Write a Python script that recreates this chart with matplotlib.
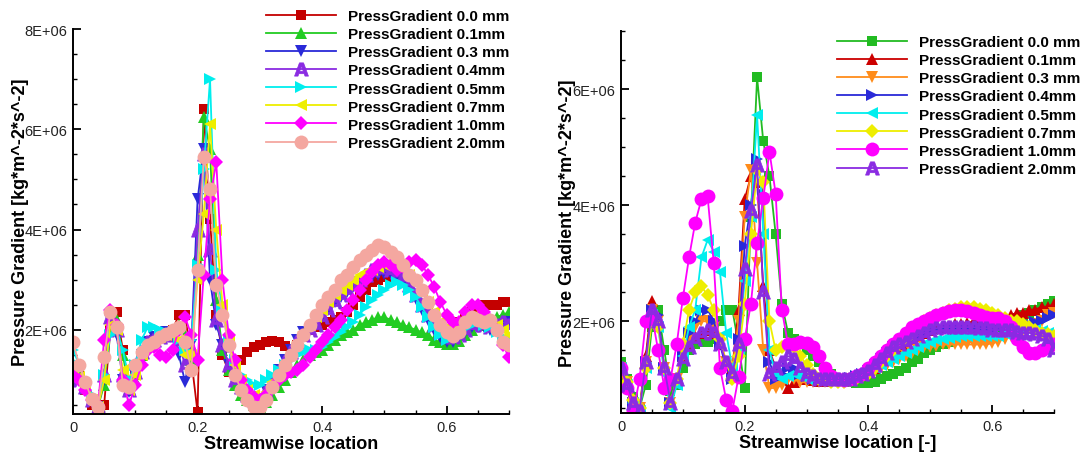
import numpy as np
import matplotlib.pyplot as plt
from matplotlib.ticker import FuncFormatter, MultipleLocator

plt.rcParams['font.family'] = ['Liberation Sans', 'DejaVu Sans']

# streamwise stations (same for every curve), values below in units of 1E+06
x = np.linspace(0, 0.7, 71)

labels_left = ['PressGradient 0.0 mm', 'PressGradient 0.1mm', 'PressGradient 0.3 mm',
               'PressGradient 0.4mm', 'PressGradient 0.5mm', 'PressGradient 0.7mm',
               'PressGradient 1.0mm', 'PressGradient 2.0mm']
labels_right = ['PressGradient 0.0 mm', 'PressGradient 0.1mm', 'PressGradient 0.3 mm',
                'PressGradient 0.4mm', 'PressGradient 0.5mm', 'PressGradient 0.7mm',
                'PressGradient 1.0mm', 'PressGradient 2.0mm']

# ---- left chart ----
left_00 = [1.3, 1.1, 0.8, 0.5, 0.35, 0.5, 2.0, 2.35, 1.6, 0.9,
           1.1, 1.5, 1.7, 1.8, 1.85, 1.9, 2.0, 2.3, 2.3, 1.4,
           0.35, 6.4, 4.2, 2.3, 1.5, 1.15, 1.25, 1.4, 1.55, 1.65,
           1.7, 1.75, 1.78, 1.75, 1.68, 1.62, 1.7, 1.85, 2.0, 2.05,
           2.1, 2.15, 2.2, 2.25, 2.35, 2.5, 2.65, 2.8, 2.95, 3.0,
           3.05, 3.05, 3.05, 3.0, 2.85, 2.7, 2.5, 2.35, 2.2, 2.05,
           2.0, 2.05, 2.15, 2.25, 2.35, 2.45, 2.5, 2.5, 2.5, 2.55,
           2.55]
left_01 = [1.2, 1.1, 0.9, 0.6, 0.45, 0.9, 2.0, 2.2, 1.5, 0.8,
           1.0, 1.5, 1.75, 1.85, 1.9, 1.95, 2.0, 2.1, 1.9, 1.4,
           3.5, 6.25, 5.6, 2.6, 1.6, 1.2, 0.9, 0.7, 0.6, 0.5,
           0.45, 0.55, 0.7, 0.85, 1.0, 1.15, 1.3, 1.4, 1.5, 1.55,
           1.6, 1.7, 1.8, 1.9, 1.95, 2.0, 2.1, 2.15, 2.2, 2.25,
           2.25, 2.2, 2.15, 2.1, 2.05, 2.0, 1.95, 1.9, 1.8, 1.75,
           1.72, 1.72, 1.78, 1.9, 2.0, 2.1, 2.15, 2.2, 2.25, 2.3,
           2.35]
left_03 = [1.1, 1.0, 0.8, 0.55, 0.45, 1.0, 2.2, 1.9, 1.0, 0.75,
           1.1, 1.5, 1.75, 1.85, 1.9, 1.95, 1.85, 1.5, 0.95, 1.7,
           4.6, 5.6, 3.0, 2.1, 1.7, 1.3, 1.05, 0.9, 0.75, 0.65,
           0.6, 0.8, 1.0, 1.2, 1.4, 1.6, 1.8, 1.95, 2.0, 2.1,
           2.25, 2.4, 2.55, 2.65, 2.75, 2.85, 2.95, 3.0, 3.05, 3.1,
           3.12, 3.12, 3.08, 3.0, 2.85, 2.62, 2.4, 2.2, 2.0, 1.85,
           1.75, 1.75, 1.85, 1.95, 2.05, 2.1, 2.05, 2.0, 2.05, 2.1,
           2.15]
left_04 = [1.15, 1.0, 0.85, 0.6, 0.45, 1.1, 2.25, 2.0, 1.1, 0.8,
           1.15, 1.55, 1.75, 1.8, 1.85, 1.9, 1.9, 1.7, 1.3, 1.6,
           4.0, 5.5, 3.6, 2.2, 1.7, 1.3, 1.0, 0.85, 0.7, 0.6,
           0.6, 0.75, 0.95, 1.15, 1.35, 1.55, 1.75, 1.9, 2.0, 2.1,
           2.25, 2.4, 2.55, 2.7, 2.8, 2.9, 3.0, 3.1, 3.2, 3.25,
           3.25, 3.2, 3.15, 3.05, 2.9, 2.7, 2.5, 2.3, 2.1, 1.95,
           1.85, 1.85, 1.9, 2.0, 2.1, 2.15, 2.1, 2.05, 2.1, 2.15,
           2.1]
left_05 = [1.6, 1.3, 1.0, 0.7, 0.5, 1.1, 1.9, 2.0, 1.6, 1.0,
           1.3, 1.8, 2.05, 2.05, 2.0, 1.95, 1.9, 1.8, 1.6, 1.8,
           3.3, 5.2, 7.0, 3.2, 2.4, 1.8, 1.4, 1.1, 1.0, 0.9,
           0.9, 1.0, 1.1, 1.2, 1.3, 1.4, 1.5, 1.55, 1.6, 1.6,
           1.65, 1.75, 1.85, 1.95, 2.05, 2.15, 2.3, 2.45, 2.6, 2.7,
           2.8, 2.9, 2.95, 2.9, 2.8, 2.65, 2.45, 2.25, 2.05, 1.9,
           1.8, 1.85, 1.95, 2.05, 2.1, 2.15, 2.1, 2.05, 1.95, 1.85,
           1.8]
left_07 = [1.2, 1.05, 0.85, 0.6, 0.45, 1.0, 2.1, 2.0, 1.2, 0.8,
           1.1, 1.5, 1.7, 1.8, 1.85, 1.9, 1.9, 1.8, 1.5, 1.5,
           3.0, 4.3, 6.1, 4.0, 2.5, 1.8, 1.3, 1.0, 0.8, 0.7,
           0.65, 0.75, 0.95, 1.15, 1.35, 1.55, 1.75, 1.95, 2.1, 2.25,
           2.4, 2.55, 2.7, 2.8, 2.9, 3.0, 3.1, 3.15, 3.2, 3.25,
           3.3, 3.3, 3.25, 3.2, 3.1, 2.95, 2.75, 2.55, 2.35, 2.15,
           2.05, 2.05, 2.1, 2.2, 2.25, 2.25, 2.2, 2.15, 2.1, 2.0,
           1.9]
left_10 = [1.1, 1.0, 0.8, 0.6, 0.5, 1.8, 2.4, 2.1, 1.0, 0.5,
           0.9, 1.3, 1.6, 1.65, 1.5, 1.45, 1.6, 2.0, 2.25, 1.9,
           1.4, 3.1, 4.6, 5.35, 3.0, 1.9, 1.4, 1.0, 0.8, 0.65,
           0.6, 0.7, 0.85, 1.0, 1.1, 1.15, 1.2, 1.3, 1.45, 1.6,
           1.75, 1.9, 2.05, 2.2, 2.4, 2.6, 2.8, 3.0, 3.15, 3.3,
           3.35, 3.3, 3.2, 3.25, 3.35, 3.4, 3.3, 3.1, 2.85, 2.55,
           2.3, 2.15, 2.15, 2.35, 2.5, 2.5, 2.35, 2.2, 2.0, 1.7,
           1.45]
left_20 = [1.76, 1.3, 0.95, 0.62, 0.45, 1.45, 2.36, 2.06, 0.9, 0.85,
           1.3, 1.55, 1.7, 1.76, 1.85, 1.92, 2.0, 2.05, 1.75, 1.2,
           3.2, 5.45, 4.8, 2.9, 2.3, 1.7, 1.1, 0.8, 0.6, 0.45,
           0.45, 0.6, 0.85, 1.1, 1.3, 1.5, 1.7, 1.9, 2.1, 2.3,
           2.5, 2.65, 2.8, 3.0, 3.1, 3.25, 3.4, 3.5, 3.6, 3.7,
           3.65, 3.55, 3.45, 3.3, 3.1, 3.0, 2.8, 2.55, 2.3, 2.1,
           1.95, 1.88, 1.95, 2.15, 2.25, 2.2, 2.15, 2.2, 2.0, 1.75,
           1.7]

# ---- right chart ----
right_00 = [1.3, 1.0, 0.7, 0.5, 0.9, 1.9, 2.2, 1.5, 0.8, 0.9,
            1.2, 1.5, 1.6, 1.65, 1.65, 1.7, 2.0, 2.2, 2.2, 1.6,
            0.85, 3.8, 6.2, 5.1, 4.5, 3.5, 2.3, 1.8, 1.7, 1.6,
            1.5, 1.4, 1.3, 1.2, 1.1, 1.0, 0.97, 0.95, 0.93, 0.93,
            0.93, 0.95, 1.0, 1.05, 1.1, 1.15, 1.2, 1.3, 1.35, 1.45,
            1.5, 1.55, 1.6, 1.65, 1.7, 1.7, 1.72, 1.75, 1.78, 1.8,
            1.85, 1.9, 1.95, 2.0, 2.05, 2.1, 2.15, 2.2, 2.25, 2.3,
            2.35]
right_01 = [1.2, 0.95, 0.65, 0.5, 1.4, 2.35, 2.0, 1.2, 0.6, 1.0,
            1.4, 1.6, 1.75, 1.8, 1.85, 1.8, 1.6, 1.3, 1.2, 2.2,
            4.1, 4.5, 4.4, 2.6, 1.5, 1.2, 1.0, 0.85, 0.95, 1.0,
            1.0, 0.98, 0.97, 0.97, 0.98, 1.0, 1.0, 1.02, 1.05, 1.1,
            1.15, 1.2, 1.3, 1.4, 1.5, 1.55, 1.6, 1.7, 1.75, 1.8,
            1.85, 1.88, 1.9, 1.92, 1.95, 1.95, 1.97, 2.0, 2.0, 2.0,
            2.0, 2.02, 2.05, 2.1, 2.15, 2.15, 2.2, 2.2, 2.25, 2.25,
            2.3]
right_03 = [1.2, 0.95, 0.6, 0.5, 1.3, 2.2, 2.0, 1.2, 0.6, 1.0,
            1.4, 1.7, 1.9, 2.0, 2.0, 1.9, 1.7, 1.3, 1.2, 2.0,
            3.8, 4.6, 3.0, 1.5, 0.85, 0.85, 0.9, 1.0, 1.0, 0.95,
            0.95, 0.95, 0.95, 0.95, 0.95, 0.95, 0.98, 1.0, 1.02, 1.05,
            1.1, 1.15, 1.2, 1.25, 1.3, 1.35, 1.4, 1.45, 1.5, 1.55,
            1.55, 1.58, 1.6, 1.6, 1.6, 1.6, 1.6, 1.6, 1.6, 1.6,
            1.62, 1.65, 1.7, 1.75, 1.8, 1.85, 1.9, 1.95, 2.0, 2.1,
            2.15]
right_04 = [1.2, 0.9, 0.6, 0.45, 1.3, 2.2, 2.1, 1.2, 0.6, 1.0,
            1.4, 1.8, 2.0, 2.2, 2.2, 2.0, 1.6, 1.2, 1.0, 1.7,
            3.3, 4.0, 4.8, 4.2, 1.3, 1.0, 1.1, 1.2, 1.2, 1.1,
            1.05, 1.0, 1.0, 1.0, 1.0, 1.0, 1.0, 1.02, 1.05, 1.1,
            1.15, 1.25, 1.35, 1.45, 1.55, 1.6, 1.65, 1.7, 1.75, 1.8,
            1.82, 1.85, 1.87, 1.88, 1.88, 1.88, 1.88, 1.88, 1.88, 1.88,
            1.88, 1.88, 1.88, 1.9, 1.9, 1.92, 1.95, 1.98, 2.0, 2.05,
            2.1]
right_05 = [1.2, 0.9, 0.6, 0.45, 1.2, 2.1, 1.9, 1.1, 0.5, 0.9,
            1.4, 1.9, 2.2, 3.1, 3.4, 3.2, 2.85, 1.8, 1.2, 1.5,
            2.7, 3.8, 5.55, 3.5, 1.5, 1.1, 1.0, 1.05, 1.1, 1.05,
            1.0, 1.0, 1.0, 0.98, 0.98, 1.0, 1.0, 1.02, 1.05, 1.1,
            1.15, 1.2, 1.25, 1.3, 1.35, 1.4, 1.45, 1.5, 1.55, 1.6,
            1.65, 1.68, 1.7, 1.72, 1.73, 1.74, 1.75, 1.75, 1.75, 1.75,
            1.75, 1.75, 1.78, 1.8, 1.82, 1.85, 1.85, 1.85, 1.83, 1.8,
            1.75]
right_07 = [1.2, 0.95, 0.65, 0.5, 1.2, 2.0, 1.9, 1.2, 0.6, 1.0,
            1.6, 2.2, 2.5, 2.6, 2.45, 2.2, 1.7, 1.3, 1.0, 1.4,
            2.3, 3.5, 4.6, 4.4, 2.0, 1.5, 1.55, 1.6, 1.55, 1.4,
            1.25, 1.1, 1.0, 0.98, 0.95, 0.95, 0.95, 0.98, 1.0, 1.05,
            1.1, 1.2, 1.3, 1.4, 1.5, 1.6, 1.7, 1.8, 1.9, 2.0,
            2.05, 2.1, 2.15, 2.2, 2.22, 2.25, 2.25, 2.25, 2.22, 2.2,
            2.15, 2.1, 2.05, 2.0, 2.0, 1.95, 1.9, 1.85, 1.8, 1.78,
            1.75]
right_10 = [1.2, 0.85, 0.45, 1.0, 2.0, 2.1, 1.5, 0.85, 1.0, 1.6,
            2.4, 3.1, 3.7, 4.1, 4.15, 3.0, 1.2, 0.65, 0.46, 1.04,
            1.69, 2.3, 3.35, 4.12, 4.92, 4.2, 2.2, 1.6, 1.6, 1.65,
            1.62, 1.55, 1.4, 1.2, 1.05, 1.0, 0.98, 1.0, 1.05, 1.1,
            1.2, 1.3, 1.4, 1.5, 1.6, 1.7, 1.8, 1.9, 1.95, 2.0,
            2.05, 2.1, 2.15, 2.18, 2.2, 2.2, 2.18, 2.15, 2.1, 2.08,
            2.05, 2.05, 2.0, 1.9, 1.7, 1.55, 1.45, 1.45, 1.5, 1.55,
            1.6]
right_20 = [1.2, 0.9, 0.6, 0.45, 1.3, 2.2, 2.0, 1.2, 0.6, 1.0,
            1.35, 1.55, 1.7, 1.8, 1.85, 1.8, 1.6, 1.3, 1.1, 1.6,
            2.9, 3.9, 4.7, 2.5, 1.1, 1.2, 1.3, 1.4, 1.35, 1.2,
            1.1, 1.05, 1.0, 1.0, 1.0, 1.0, 1.0, 1.0, 1.05, 1.1,
            1.15, 1.25, 1.35, 1.45, 1.55, 1.6, 1.65, 1.7, 1.75, 1.8,
            1.85, 1.88, 1.9, 1.9, 1.9, 1.9, 1.9, 1.9, 1.88, 1.88,
            1.85, 1.85, 1.85, 1.85, 1.82, 1.8, 1.8, 1.78, 1.75, 1.7,
            1.5]

left_series = [left_00, left_01, left_03, left_04, left_05, left_07, left_10, left_20]
right_series = [right_00, right_01, right_03, right_04, right_05, right_07, right_10, right_20]

left_colors = ['#c40000', '#22cc22', '#2a2ad8', '#8a2be2', '#00eeee', '#eeee00', '#ff00ff', '#f4a7a0']
left_markers = ['s', '^', 'v', r'$\mathbf{A}$', '>', '<', 'D', 'o']
left_sizes = [7.5, 8, 8, 10, 8, 8, 7.5, 10]

right_colors = ['#22bb22', '#cc0000', '#ff8c1a', '#2a2ad8', '#00eeee', '#eeee00', '#ff00ff', '#8a2be2']
right_markers = ['s', '^', 'v', '>', '<', 'D', 'o', r'$\mathbf{A}$']
right_sizes = [7.5, 8, 8, 8, 8, 7.5, 10, 10]

fig = plt.figure(figsize=(10.82, 4.56), dpi=100)
ax1 = fig.add_axes([73 / 1082, 1 - 415 / 456, 436 / 1082, 385 / 456])
ax2 = fig.add_axes([621 / 1082, 1 - 414 / 456, 433 / 1082, 382 / 456])

sci = FuncFormatter(lambda v, pos: '%dE+06' % round(v / 1e6))


def draw(ax, series, labels, colors, markers, sizes, ylim, xlabel, ylab_x):
    for vals, lab, c, m, s in zip(series, labels, colors, markers, sizes):
        ax.plot(x, np.array(vals) * 1e6, color=c, marker=m, markersize=s,
                linewidth=1.3, markeredgewidth=0.5 if m.startswith('$') else 0,
                label=lab)
    ax.set_xlim(0, 0.7)
    ax.set_ylim(*ylim)
    ax.xaxis.set_major_locator(MultipleLocator(0.2))
    ax.xaxis.set_minor_locator(MultipleLocator(0.05))
    ax.yaxis.set_major_locator(MultipleLocator(2e6))
    ax.yaxis.set_minor_locator(MultipleLocator(0.5e6))
    ax.yaxis.set_major_formatter(sci)
    ax.xaxis.set_major_formatter(FuncFormatter(lambda v, pos: '0' if v == 0 else '%.1f' % v))
    ax.spines['top'].set_visible(False)
    ax.spines['right'].set_visible(False)
    ax.spines['left'].set_linewidth(1.4)
    ax.spines['bottom'].set_linewidth(1.4)
    ax.tick_params(which='major', direction='in', length=6, width=1.3,
                   labelsize=10.5, labelcolor='#222222', pad=4)
    ax.tick_params(which='minor', direction='in', length=3, width=1.0)
    ax.set_xlabel(xlabel, fontsize=13, fontweight='bold', labelpad=1)
    ax.set_ylabel('Pressure Gradient [kg*m^-2*s^-2]', fontsize=13, fontweight='bold')
    ax.yaxis.set_label_coords(ylab_x, 0.5)


draw(ax1, left_series, labels_left, left_colors, left_markers, left_sizes,
     (0.32e6, 8e6), 'Streamwise location', -0.100)
draw(ax2, right_series, labels_right, right_colors, right_markers, right_sizes,
     (0.42e6, 7e6), 'Streamwise location [-]', -0.105)

legend_style = dict(loc='upper left', frameon=False, borderpad=0, borderaxespad=0,
                    handlelength=4.6, handletextpad=0.75, labelspacing=0.27,
                    numpoints=1, prop={'weight': 'bold', 'size': 11})
fig.legend(*ax1.get_legend_handles_labels(), bbox_to_anchor=(266 / 1082, 1 - 10 / 456), **legend_style)
fig.legend(*ax2.get_legend_handles_labels(), bbox_to_anchor=(837 / 1082, 1 - 36 / 456), **legend_style)

plt.savefig('out.png', dpi=100)
